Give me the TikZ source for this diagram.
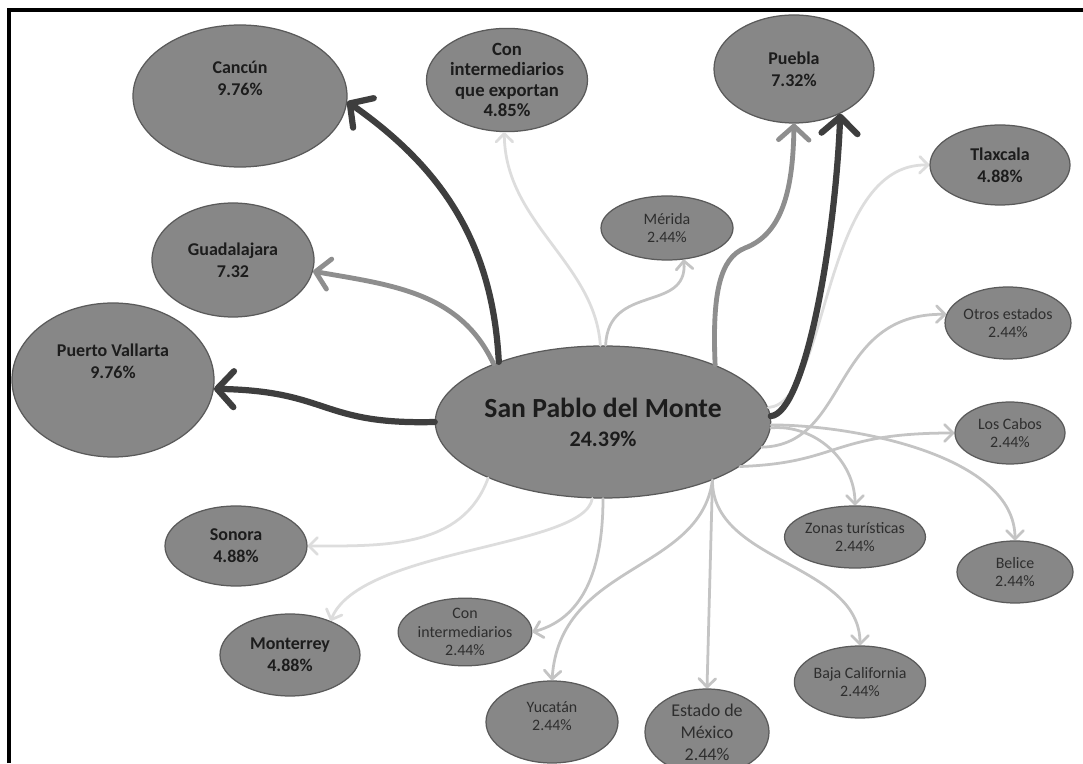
\documentclass[tikz,border=0pt]{standalone}
\usepackage{fontspec}
\setmainfont{Carlito}
\usetikzlibrary{arrows.meta,shapes.geometric}
\definecolor{placegray}{HTML}{878787}
\definecolor{placeedge}{HTML}{5A5A5A}
\definecolor{flowdark}{HTML}{3E3E3E}
\definecolor{flowmid}{HTML}{8E8E8E}
\definecolor{flowlight}{HTML}{C4C4C4}
\definecolor{flowpale}{HTML}{DDDDDD}
\definecolor{labelink}{HTML}{1C1C1C}
\definecolor{smallink}{HTML}{2E2E2E}

\tikzset{
  place/.style 2 args={ellipse, draw=placeedge, fill=placegray, line width=0.9pt,
    inner sep=0pt, minimum width=#1*0.0254cm, minimum height=#2*0.0254cm,
    align=center, text=labelink},
  bigtxt/.style={font=\fontsize{13}{16}\selectfont\bfseries},
  smalltxt/.style={font=\fontsize{11.5}{13.5}\selectfont, text=smallink},
  heavyflow/.style={draw=flowdark, line width=4.5pt, line cap=round,
    -{Straight Barb[length=12pt,width=26pt,round]}},
  midflow/.style={draw=flowmid, line width=3.5pt, line cap=round,
    -{Straight Barb[length=10pt,width=22pt,round]}},
  lightflow/.style={draw=flowlight, line width=2pt, line cap=round,
    -{Straight Barb[length=6pt,width=12pt,round]}},
  paleflow/.style={lightflow, draw=flowpale},
}

\begin{document}
\begin{tikzpicture}[x=0.0254cm, y=0.0254cm]
  %% Canvas and frame
  \useasboundingbox (0,0) rectangle (1083,763);
  \fill[white] (0,0) rectangle (1083,763);
  \draw[line width=3.6pt] (9,0) -- (9,753) -- (1083,753);

  %% Origin municipality
  \node[place={304}{152}, font=\fontsize{20}{21}\selectfont\bfseries] (spm) at (603,341)
    {San Pablo del Monte\\{\fontsize{16}{21}\selectfont 24.39\%}};

  %% Destinations
  \node[place={214}{142}, bigtxt] (cancun) at (240,667) {Cancún\\9.76\%\\[10pt]\mbox{}};
  \node[place={150}{94}, font=\fontsize{13.5}{14.6}\selectfont\bfseries] (exporta) at (507,683)
    {Con\\intermediarios\\que exportan\\4.85\%};
  \node[place={160}{108}, bigtxt] (puebla) at (794,694) {Puebla\\7.32\%};
  \node[place={140}{80}, bigtxt] (tlaxcala) at (1000,598) {Tlaxcala\\4.88\%};
  \node[place={132}{64}, smalltxt] (merida) at (667,535) {Mérida\\2.44\%};
  \node[place={162}{114}, bigtxt] (guadalajara) at (233,503) {Guadalajara\\7.32};
  \node[place={202}{154}, bigtxt] (vallarta) at (113,383) {Puerto Vallarta\\9.76\%\\[11pt]\mbox{}};
  \node[place={112}{72}, smalltxt] (otros) at (1008,440) {Otros estados\\2.44\%};
  \node[place={110}{62}, smalltxt] (cabos) at (1010,330) {Los Cabos\\2.44\%};
  \node[place={142}{80}, bigtxt] (sonora) at (236,217) {Sonora\\4.88\%};
  \node[place={118}{62}, smalltxt] (zonas) at (855,226) {Zonas turísticas\\2.44\%};
  \node[place={116}{62}, smalltxt] (belice) at (1015,191) {Belice\\2.44\%};
  \node[place={140}{82}, bigtxt] (monterrey) at (290,108) {Monterrey\\4.88\%};
  \node[place={116}{58}, smalltxt] (intermed) at (465,131) {Con\\intermediarios\\2.44\%};
  \node[place={132}{82}, smalltxt] (yucatan) at (552,41) {Yucatán\\2.44\%\\[-5pt]\mbox{}};
  \node[place={124}{86}, font=\fontsize{13}{16}\selectfont, text=smallink] (edomex) at (707,31)
    {Estado de\\México\\2.44\%};
  \node[place={116}{72}, smalltxt] (baja) at (860,81) {Baja California\\2.44\%};

  %% Pale flows
  \draw[paleflow] (spm.92) .. controls (595,500) and (505,540) .. (exporta.-93);
  \draw[paleflow] (spm.5) .. controls (830,360) and (820,600) .. (tlaxcala.west);
  \draw[paleflow] (spm.206) to[out=-110,in=0] (sonora.east);
  \draw[paleflow] (spm.262) .. controls (585,215) and (360,215) .. (monterrey.40);

  %% Light flows
  \draw[lightflow] (spm.88) .. controls (608,480) and (688,450) .. (merida.-62);
  \draw[lightflow] (spm.-9) .. controls (850,318) and (830,450) .. (otros.172);
  \draw[lightflow] (spm.-18) .. controls (840,300) and (830,330) .. (cabos.west);
  \draw[lightflow] (spm.-2) to[out=5,in=90] (zonas.north);
  \draw[lightflow] (spm.-1) to[out=0,in=90,looseness=0.8] (belice.north);
  \draw[lightflow] (spm.-28) .. controls (712,200) and (860,200) .. (baja.north);
  \draw[lightflow] (spm.-28) -- (edomex.north);
  \draw[lightflow] (spm.-28) .. controls (700,190) and (560,200) .. (yucatan.north);
  \draw[lightflow] (spm.south) to[out=-90,in=15] (intermed.east);

  %% Mid flows
  \draw[midflow] (spm.152) to[out=115,in=-10] (guadalajara.-8);
  \draw[midflow] (spm.27) .. controls (712,470) and (720,505) .. (745,515)
    .. controls (785,530) and (793,580) .. (puebla.-90);

  %% Heavy flows
  \draw[heavyflow] (spm.150) to[out=93,in=-35] (cancun.-3);
  \draw[heavyflow] (spm.west) .. controls (320,338) and (330,372) .. (vallarta.-5);
  \draw[heavyflow] (spm.2) .. controls (805,350) and (835,520) .. (puebla.-44);
\end{tikzpicture}
\end{document}
